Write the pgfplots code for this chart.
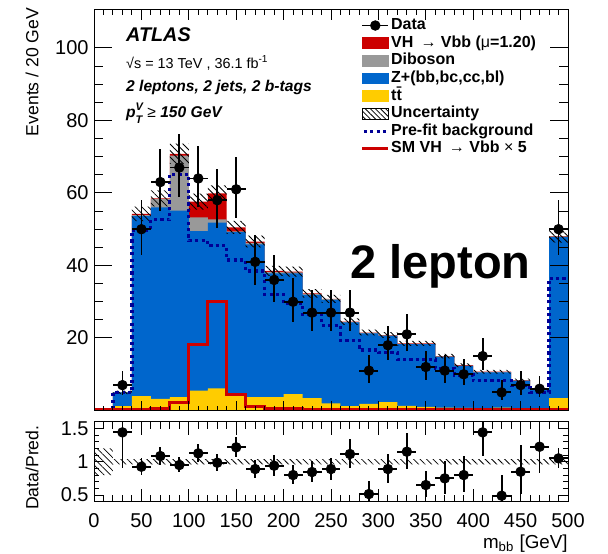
\documentclass[border=0pt]{standalone}
\usepackage{fontspec}
\setmainfont{Liberation Sans}
\usepackage{pgfplots}
\usepackage{pgfplotstable}
\pgfplotsset{compat=1.18}
\usetikzlibrary{patterns.meta}

\definecolor{vhred}{RGB}{204,0,0}
\definecolor{dbgray}{RGB}{153,153,153}
\definecolor{zblue}{RGB}{0,102,204}
\definecolor{ttyellow}{RGB}{255,204,0}
\definecolor{prefit}{RGB}{0,0,150}

\tikzset{prefitline/.style={prefit, line width=1.6pt, dash pattern=on 1.6pt off 1.6pt}}

% cumulative stack tops per 20 GeV bin (left edge), last row repeats the last bin
\pgfplotstableread{
x    tt   zt   db   tot  unc  pre  sig
0    0.1  0.3  0.3  0.3  0.1  0.3  0.2
20   1.2  5.0  5.0  5.0  0.5  5.0  0.2
40   4.0  53.6 53.9 54.2 2.0  49.8 0.4
60   3.2  56.0 58.3 58.5 2.2  52.6 0.5
80   3.7  55.1 70.3 70.8 2.8  65.2 2.1
100  5.5  49.5 53.3 57.6 2.2  46.8 18.1
120  6.1  51.8 52.7 59.9 2.2  45.4 30.0
140  4.0  49.2 49.4 50.5 1.8  41.5 4.5
160  3.7  45.8 46.2 46.6 1.6  38.5 1.0
180  3.7  37.8 38.2 38.5 1.4  32.0 0.6
200  4.5  37.8 38.1 38.3 1.4  29.5 0.5
220  3.4  31.9 32.1 32.3 1.2  26.5 0.4
240  2.0  30.5 30.7 30.8 1.1  23.5 0.4
260  1.2  24.3 24.4 24.5 0.9  19.4 0.3
280  1.8  21.3 21.4 21.5 0.8  16.7 0.3
300  2.3  20.6 20.7 20.8 0.8  15.9 0.3
320  1.3  18.3 18.4 18.5 0.7  14.1 0.3
340  1.0  18.3 18.4 18.5 0.7  14.1 0.3
360  0.8  14.8 14.9 15.0 0.6  11.6 0.3
380  0.7  12.3 12.4 12.5 0.5  9.8  0.3
400  0.5  10.5 10.6 10.7 0.5  8.2  0.3
420  0.8  10.5 10.6 10.7 0.5  8.2  0.3
440  0.5  8.2  8.3  8.4  0.4  6.8  0.3
460  0.5  5.9  6.0  6.1  0.4  4.9  0.3
480  3.4  47.8 48.0 48.1 1.8  36.5 0.3
500  3.4  47.8 48.0 48.1 1.8  36.5 0.3
}\stack

\pgfplotstableread{
x    y   ep   em
30   7   3.8  2.6
50   50  8.1  7.1
70   63  9.0  7.9
90   67  9.2  8.2
110  64  9.0  8.0
130  58  8.7  7.6
150  61  8.8  7.8
170  41  7.4  6.4
190  36  7.0  6.0
210  30  6.5  5.5
230  27  6.2  5.2
250  27  6.2  5.2
270  27  6.2  5.2
290  11  4.4  3.3
310  18  5.3  4.2
330  21  5.6  4.6
350  12  4.5  3.5
370  11  4.4  3.3
390  10  4.3  3.1
410  15  5.0  3.9
430  5   3.4  2.2
450  7   3.8  2.6
470  6   3.6  2.4
490  50  8.1  7.1
}\data

\pgfplotstableread{
x    r      ep    em
30   1.44   0.60  0.54
50   0.925  0.13  0.12
70   1.085  0.14  0.13
90   0.95   0.12  0.11
110  1.125  0.14  0.13
130  0.985  0.13  0.12
150  1.216  0.16  0.15
170  0.89   0.14  0.13
190  0.94   0.16  0.15
210  0.80   0.15  0.14
230  0.845  0.16  0.15
250  0.89   0.17  0.16
270  1.115  0.23  0.21
290  0.515  0.20  0.18
310  0.89   0.23  0.21
330  1.15   0.28  0.26
350  0.65   0.21  0.18
370  0.75   0.26  0.23
390  0.80   0.29  0.26
410  1.44   0.40  0.36
430  0.49   0.31  0.23
450  0.85   0.40  0.34
470  1.225  0.45  0.40
490  1.05   0.16  0.15
}\ratio

% ratio uncertainty band: lower edge and height per bin centre
\pgfplotstableread{
x    lo    h
10   0.80  0.40
30   0.96  0.08
50   0.96  0.08
70   0.96  0.08
90   0.96  0.08
110  0.96  0.08
130  0.96  0.08
150  0.96  0.08
170  0.96  0.08
190  0.96  0.08
210  0.96  0.08
230  0.96  0.08
250  0.96  0.08
270  0.96  0.08
290  0.96  0.08
310  0.96  0.08
330  0.96  0.08
350  0.96  0.08
370  0.96  0.08
390  0.96  0.08
410  0.96  0.08
430  0.96  0.08
450  0.96  0.08
470  0.96  0.08
490  0.96  0.08
}\rband

\pgfplotsset{
  rootframe/.style={
    scale only axis, width=237pt, xmin=0, xmax=500,
    axis line style={line width=0.5pt},
    tick align=inside, xtick pos=both, ytick pos=both,
    every tick/.append style={black, line width=0.5pt},
    major tick length=6pt, minor tick length=3pt,
    xtick={0,50,...,500}, minor x tick num=4,
    ticklabel style={font=\fontsize{10}{10}\selectfont},
    yticklabel style={inner sep=2.5pt},
    /pgf/number format/assume math mode=true,
    label style={font=\fontsize{8.8}{9}\selectfont},
  },
  mainframe/.style={rootframe, at={(47pt,71.25pt)}, anchor=south west, height=200.5pt,
    ymin=0, ymax=110.6},
  ratioframe/.style={rootframe, at={(47pt,25.65pt)}, anchor=south west, height=40pt,
    ymin=0.4, ymax=1.6},
  datapts/.style={only marks, mark=*, mark size=2.4pt, black,
    error bars/y dir=both, error bars/y explicit,
    error bars/x dir=both, error bars/x fixed=10,
    error bars/error bar style={line width=0.9pt, black},
    error bars/error mark=none},
  hatch/.style={draw=none, pattern={Lines[angle=-45,distance=2.3pt,line width=0.4pt]}, pattern color=black},
}

\begin{document}
\begin{tikzpicture}
\useasboundingbox (0,0) rectangle (304pt,276.5pt);

% stacked histogram (drawn top layer first)
\begin{axis}[mainframe, hide axis]
\addplot[const plot, fill=vhred, draw=none] table[x=x, y=tot] {\stack} \closedcycle;
\addplot[const plot, fill=dbgray, draw=none] table[x=x, y=db] {\stack} \closedcycle;
\addplot[const plot, fill=zblue, draw=none] table[x=x, y=zt] {\stack} \closedcycle;
\addplot[const plot, fill=ttyellow, draw=none] table[x=x, y=tt] {\stack} \closedcycle;
\end{axis}

% hatched uncertainty band as stacked bars
\begin{axis}[mainframe, hide axis, ybar stacked, bar width=20]
\addplot[draw=none, fill=none] table[x expr=\thisrow{x}+10, y expr=\thisrow{tot}-\thisrow{unc}] {\stack};
\addplot[hatch] table[x expr=\thisrow{x}+10, y expr=2*\thisrow{unc}] {\stack};
\end{axis}

\begin{axis}[mainframe,
  xtick=\empty, major tick length=9pt, minor tick length=4.5pt,
  ytick={20,40,60,80,100}, minor y tick num=3,
  ylabel={Events / 20 GeV},
  ylabel style={at={(axis description cs:-0.116,1.005)}, anchor=south east, inner sep=0pt},
  legend cell align=left,
  legend style={at={(axis description cs:0.562,0.983)}, anchor=north west, draw=none, fill=none,
    inner sep=0pt, row sep=0pt, font=\fontsize{8}{9}\selectfont\bfseries,
    nodes={inner sep=0.65pt, text height=5.8pt, text depth=1.7pt}},
]
\addlegendimage{legend image code/.code={\draw[black,line width=0.9pt] (0pt,0pt) -- (13pt,0pt); \fill[black] (6.5pt,0pt) circle (2.4pt);}}
\addlegendentry{Data}
\addlegendimage{legend image code/.code={\fill[vhred] (0pt,-2.7pt) rectangle (13pt,2.7pt);}}
\addlegendentry{VH \,\textmd{→} Vbb (\textmd{μ}=1.20)}
\addlegendimage{legend image code/.code={\fill[dbgray] (0pt,-2.7pt) rectangle (13pt,2.7pt);}}
\addlegendentry{Diboson}
\addlegendimage{legend image code/.code={\fill[zblue] (0pt,-2.7pt) rectangle (13pt,2.7pt);}}
\addlegendentry{Z+(bb,bc,cc,bl)}
\addlegendimage{legend image code/.code={\fill[ttyellow] (0pt,-2.7pt) rectangle (13pt,2.7pt);}}
\addlegendentry{t\={t}}
\addlegendimage{legend image code/.code={\draw[black,line width=0.4pt,pattern={Lines[angle=-45,distance=1.8pt,line width=0.4pt]}] (0pt,-2.7pt) rectangle (13pt,2.7pt);}}
\addlegendentry{Uncertainty}
\addlegendimage{legend image code/.code={\draw[prefitline] (0.8pt,0pt) -- (13pt,0pt);}}
\addlegendentry{Pre-fit background}
\addlegendimage{legend image code/.code={\draw[vhred,line width=1.5pt] (0pt,0pt) -- (13pt,0pt);}}
\addlegendentry{SM VH \,\textmd{→} Vbb \textmd{×} 5}

% pre-fit and signal x5
\addplot[const plot, prefitline, forget plot] table[x=x, y=pre] {\stack};
\addplot[const plot, vhred, line width=1.5pt, forget plot] table[x=x, y=sig] {\stack};

\addplot[datapts, forget plot] table[x=x, y=y, y error plus=ep, y error minus=em] {\data};

\node[anchor=base west, font=\fontsize{9.9}{10}\selectfont\bfseries\itshape] at (axis description cs:0.053,0.920) {ATLAS};
\node[anchor=base west, font=\fontsize{7.2}{8}\selectfont] at (axis description cs:0.053,0.852) {√s = 13 TeV , 36.1 fb\textsuperscript{-1}};
\node[anchor=base west, font=\fontsize{7.8}{8}\selectfont\bfseries\itshape] at (axis description cs:0.053,0.796) {2 leptons, 2 jets, 2 b-tags};
\node[anchor=base west, font=\fontsize{7.8}{8}\selectfont\bfseries\itshape] at (axis description cs:0.053,0.730)
  {p\rlap{\raisebox{-0.7ex}{\fontsize{5.5}{6}\selectfont T}}\raisebox{0.9ex}{\fontsize{5.5}{6}\selectfont V}\ \textup{\mdseries ≥} 150 GeV};
\node[anchor=base west, font=\fontsize{23.5}{24}\selectfont\bfseries] at (axis cs:263,36.5) {2 lepton};
\end{axis}

% x ticks of the main panel, shorter than the y ticks
\begin{axis}[mainframe, ytick=\empty, xticklabels={}, major tick length=5pt, minor tick length=2.5pt]
\end{axis}

% ratio band
\begin{axis}[ratioframe, hide axis, ybar stacked, bar width=20]
\addplot[draw=none, fill=none] table[x=x, y=lo] {\rband};
\addplot[hatch] table[x=x, y=h] {\rband};
\end{axis}

\begin{axis}[ratioframe,
  major tick length=5pt, minor tick length=2.5pt,
  ytick={0.5,1,1.5}, yticklabels={0.5,1,1.5}, minor y tick num=4,
  xticklabel style={yshift=-2.2pt},
  xlabel={m\textsubscript{bb} [GeV]},
  xlabel style={at={(axis description cs:1,-0.41)}, anchor=north east, inner sep=0pt,
    font=\fontsize{9.4}{10}\selectfont},
  ylabel={Data/Pred.},
  ylabel style={at={(axis description cs:-0.116,0.956)}, anchor=south east, inner sep=0pt},
]
\addplot[datapts] table[x=x, y=r, y error plus=ep, y error minus=em] {\ratio};
\end{axis}

% x ticks of the ratio panel, a little longer
\begin{axis}[ratioframe, ytick=\empty, xticklabels={}, major tick length=6.5pt, minor tick length=3.5pt]
\end{axis}
\end{tikzpicture}
\end{document}
